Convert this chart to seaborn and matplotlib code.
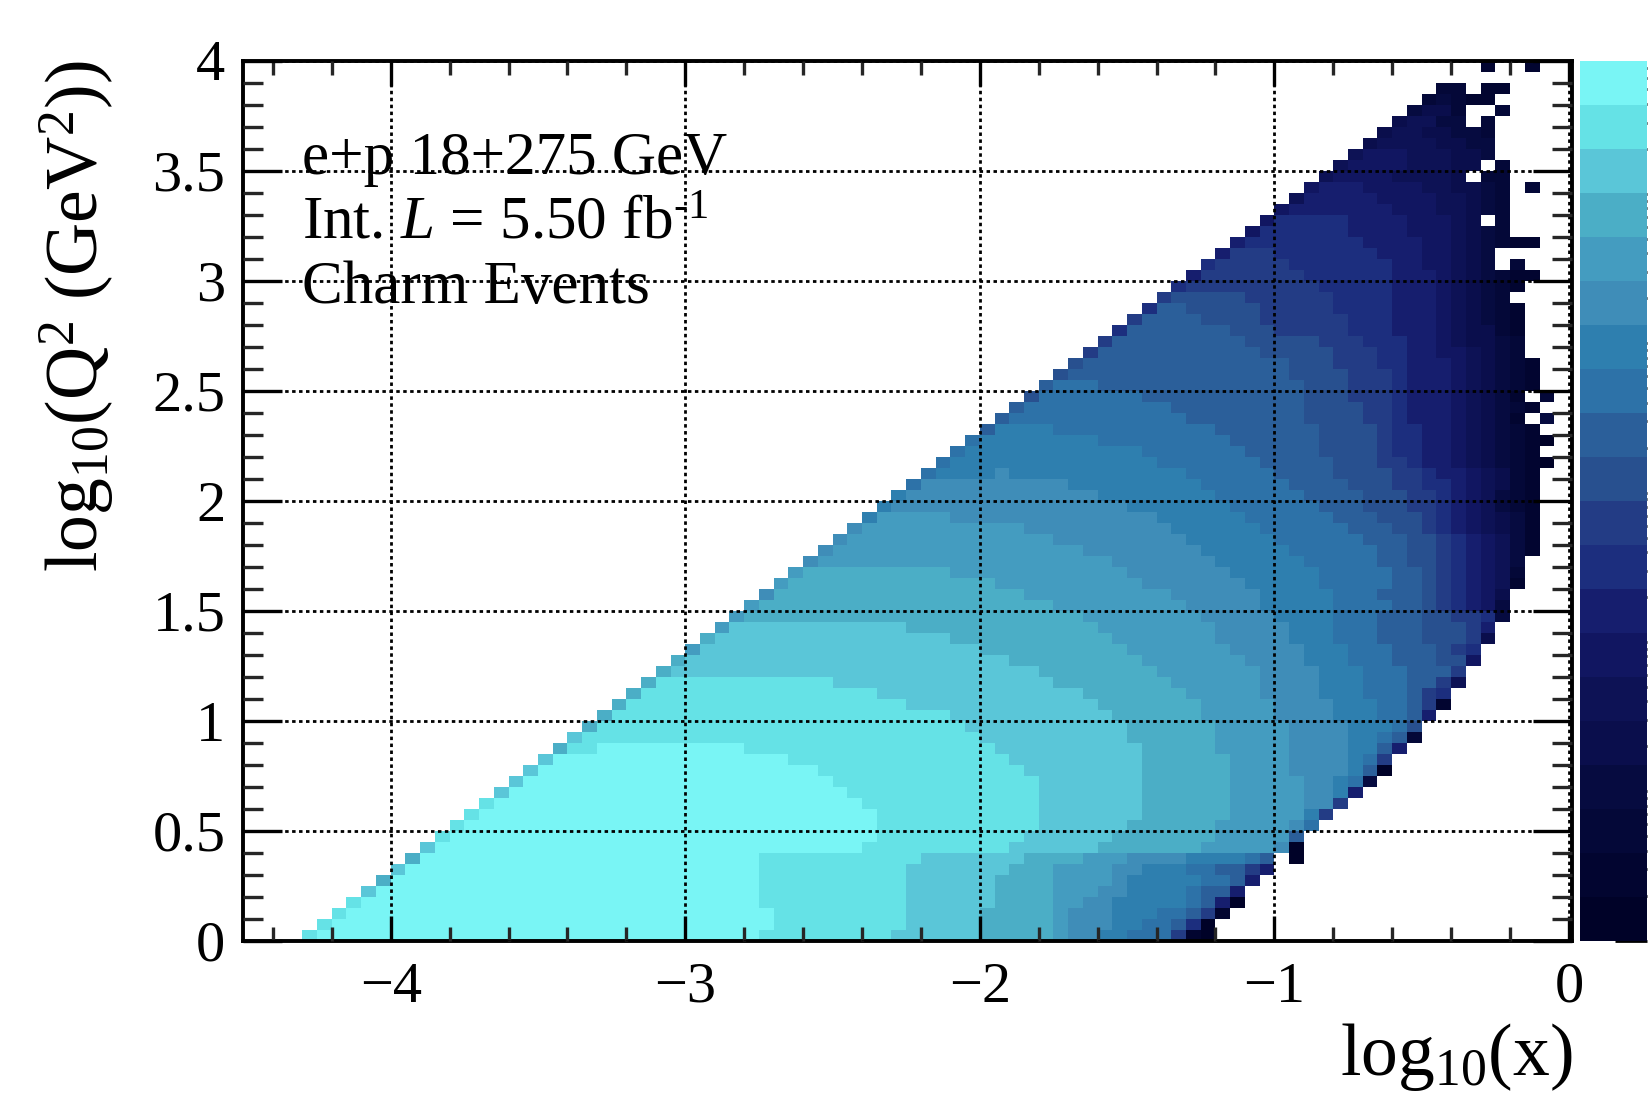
import numpy as np
import matplotlib
matplotlib.use("Agg")
import matplotlib.pyplot as plt
from matplotlib.colors import ListedColormap
from matplotlib.ticker import FixedLocator
import seaborn as sns

# colour bands of the z scale, light (a) to dark (t)
band_names = "abcdefghijklmnopqrst"
band_colors = ["#79F5F5", "#65E2E6", "#5AC6D8", "#4BAEC6", "#449CC0", "#3F8DB8", "#2E7FAF",
               "#2D72A8", "#2B5F9A", "#28508F", "#233C85", "#1C2E7E", "#161E6E", "#111661",
               "#0D1255", "#0A0E4C", "#060B40", "#040838", "#020530", "#000228"]
z_log_max = 5.893

# one string per Q2 bin, bottom to top: first column, then band + column where it ends (_ = empty)
row_runs = [
    "4 b5 a35 b44 c50 d55 e56 f58 g60 h63 k64 s65 t66",
    "5 b6 a36 b45 c50 d55 e56 f59 g61 h63 i64 l65 t66",
    "6 b7 a36 b45 c50 d55 e56 f59 g62 h64 i65 k66 s67",
    "7 b8 a35 b45 c51 d55 e57 f59 g64 h65 i66 m67 t68",
    "8 c9 a35 b45 c51 d55 e58 f60 g64 h65 i67 m68",
    "9 d10 a35 b45 c51 d55 e59 f60 g65 h67 i68 m69",
    "10 c11 a35 b45 c52 d55 e59 f61 g64 h66 i68 k69 m70",
    "11 d12 a35 b46 c53 d57 e60 f64 g68 h69 i70 _71 t72",
    "12 c13 a42 b52 c58 d65 e70 f71 t72",
    "13 b14 a43 b53 c59 d66 e71 i72",
    "14 b15 a43 b54 c60 d66 e71 f72 h73",
    "15 b16 a43 b54 c61 d67 e72 g73 k74",
    "16 b17 a42 b54 c61 d67 e72 f74 k75",
    "17 c18 a41 b54 c61 d67 e72 f74 g75 m76",
    "18 c19 a40 b54 c61 d67 e72 f74 g75 h76 q77",
    "19 c20 a39 b53 c61 d67 e71 f75 g76 i77 t78",
    "20 c21 a37 b52 c61 d67 e71 f75 g76 h77 k78",
    "21 d22 b24 a34 b51 c61 d66 e71 f75 g77 i78 m79",
    "22 c23 b50 c60 d66 e71 f75 g77 h78 i79 r80",
    "23 d24 b49 c60 d66 e71 f75 g78 h79 j80",
    "24 d25 b48 c59 d65 e70 f74 g77 h79 i80 m81",
    "25 d26 b45 c58 d65 e70 f74 g77 h79 i80 k81 s82",
    "26 d27 b43 c57 d64 e69 f73 g76 h79 i80 k81 l82",
    "27 d28 b40 c55 d63 e69 f73 g76 h79 i81 k82 o83",
    "28 d29 c54 d62 e69 f73 g76 h79 i82 k83",
    "29 d30 c52 d61 e68 f72 g75 h78 i81 j83 n84",
    "30 e31 c50 d60 e67 f72 g75 h78 i81 j82 k83 l84",
    "31 d32 c48 d59 e66 f71 g74 h77 i80 j83 k84 p85",
    "32 e33 c45 d58 e66 f71 g74 h77 i80 j83 k84 m85",
    "33 e34 d57 e65 f70 g74 h77 i80 j82 k84 l85 q86",
    "34 e35 d55 e64 f69 g74 h78 i80 j81 k82 l83 m84 n85 q86",
    "35 f36 d53 e63 f69 g74 h77 i80 j81 k82 l83 m84 n85 p86",
    "36 e37 d51 e61 f68 g73 h78 i80 j81 k82 l83 m84 n85 o86 s87",
    "37 e38 d48 e60 f67 g73 h78 i80 j81 k82 l83 m84 n85 o86 r87",
    "38 f39 e59 f66 g72 h77 i79 j81 k82 l83 m84 n85 o86 q87",
    "39 f40 e57 f65 g71 h77 i79 j81 k82 l83 m84 n85 o86 q87 s88",
    "40 f41 e55 f64 g70 h76 i79 j81 k82 l83 m84 n85 o86 q87 s88",
    "41 f42 e53 f63 g69 h75 i78 j80 k81 l82 m83 n84 o85 p86 q87 s88",
    "42 g43 e48 f62 g68 h74 i77 j80 k81 l82 m83 n84 o85 p86 q87 s88",
    "43 g44 f60 g67 h73 i76 j79 k81 l82 m83 n84 o85 q86 r87 s88",
    "44 g45 f58 g66 h72 i76 j79 k81 l82 m83 n84 o85 q86 r87 s88",
    "45 h46 f56 g65 h71 i75 j78 k80 l82 m83 n84 o85 p86 r87 s88",
    "46 h47 g51 f52 g64 h70 i74 j78 k80 l81 m83 n84 o85 p86 r87 s88",
    "47 h48 g62 h69 i74 j77 k79 l80 m82 n83 o84 p85 q86 r87 s88 t89",
    "48 h49 g61 h68 i73 j77 k78 l80 m82 n83 o84 p85 q86 r87 s88",
    "49 h50 g58 h67 i73 j77 k78 l80 m82 n83 o84 p85 q86 r87 s88 t89",
    "50 i51 g55 h66 i73 j77 k78 l80 m82 n83 o84 p85 q86 r87 s88",
    "51 i52 h64 i72 j76 k78 l79 m82 n83 o84 p85 q86 s87 _88 q89",
    "52 i53 h63 i72 j76 k78 l79 m82 n83 o84 p85 q86 r87 s88",
    "53 j54 h61 i72 j75 k78 l79 m82 n83 o84 p85 q86 s87 _88 r89",
    "54 i55 h58 i72 j75 k78 l79 m82 n83 o84 p85 q86 r87 s88",
    "55 j56 i71 j75 k78 l79 m82 n83 o84 p85 q86 r87 s88",
    "56 j57 i71 j74 k77 l79 m82 n83 o84 p85 q86 r87 s88",
    "57 k58 i69 j74 k77 l79 m81 n83 o84 p85 q86 r87",
    "58 k59 i68 j73 k76 l79 m81 n82 o83 p85 q86 r87",
    "59 l60 i67 j70 k75 l78 m81 n82 o83 p85 r86 s87",
    "60 k61 i65 j69 k75 l78 m81 n82 o83 p84 q85 r86 s87",
    "61 l62 i64 j69 k74 l78 m81 n82 o83 p84 q85 r86 s87",
    "62 k63 j68 k74 l78 m81 n82 o83 p84 q85 r86",
    "63 l64 k73 l78 m81 n82 o83 p84 q85 r86 s87",
    "64 m65 k72 l78 m81 n82 o83 p84 q85 r86 s88",
    "65 l66 k71 l78 m80 n82 o83 p84 q85 _86 r87",
    "66 m67 k70 l77 m80 n82 o83 p84 q85",
    "67 m68 l76 m80 n82 o83 p84 q85 r86 s88",
    "68 n69 l75 m79 n82 o83 p84 q85 r86",
    "69 n70 l75 m79 n82 o83 p84 _85 r86",
    "70 n71 m78 n81 o83 p84 q85 r86",
    "71 o72 m77 n81 o83 p84 q85 r86",
    "72 n73 m76 n80 o82 p84 q85 r86 _87 r88",
    "73 o74 n78 o82 p83 _84 r86",
    "74 o75 n79 o82 p84 _85 r86",
    "75 o76 n79 o82 p84 q85",
    "76 p77 o81 p83 q85",
    "77 p78 o80 p82 q84 r85",
    "78 p79 o81 q83 _84 r85",
    "79 q80 p82 r83 _85 r86",
    "80 r81 q82 r83 s85",
    "81 r83 _84 s86",
    "",
    "84 s85 _87 s88",
]

x_tick_labels = ["\u22124", "\u22123", "\u22122", "\u22121", "0"]
y_tick_labels = ["0", "0.5", "1", "1.5", "2", "2.5", "3", "3.5", "4"]

sns.set_theme(style="ticks")
plt.rcParams['font.family'] = ['Liberation Serif', 'DejaVu Serif']
plt.rcParams['mathtext.fontset'] = 'custom'
plt.rcParams['mathtext.rm'] = 'Liberation Serif'
plt.rcParams['mathtext.it'] = 'Liberation Serif:italic'

# unpack the runs to bin centres + weights
x_edges = -4.5 + 0.05 * np.arange(91)
y_edges = 0.05 * np.arange(81)
band_edges = np.linspace(0, z_log_max, 21)
band_mid = (band_edges[:-1] + band_edges[1:]) / 2

xs, ys, ws = [], [], []
for row, runs in enumerate(row_runs):
    tokens = runs.split()
    if not tokens:
        continue
    col = int(tokens[0])
    for tok in tokens[1:]:
        end = int(tok[1:])
        if tok[0] != "_":
            for c in range(col, end):
                xs.append(x_edges[c] + 0.025)
                ys.append(y_edges[row] + 0.025)
                ws.append(band_mid[19 - band_names.index(tok[0])])
        col = end

cmap = ListedColormap(band_colors[::-1])

W, H = 1650, 1108
fig = plt.figure(figsize=(W / 100, H / 100), dpi=100)
ax = fig.add_axes([243.4 / W, (H - 940.7) / H, (1572.5 - 243.4) / W, 880.2 / H])
cax = fig.add_axes([1579.5 / W, (H - 940.7) / H, (1647 - 1579.5) / W, 880.2 / H])

# 2D histogram
sns.histplot(x=xs, y=ys, weights=ws, bins=(x_edges, y_edges), cmap=cmap,
             vmin=0, vmax=z_log_max, ax=ax)

ax.set_xlim(-4.5, 0.012)
ax.set_ylim(0, 4)
ax.set_xticks(np.arange(-4, 1))
ax.set_xticklabels(x_tick_labels)
ax.set_yticks(np.arange(0, 4.5, 0.5))
ax.set_yticklabels(y_tick_labels)
ax.xaxis.set_minor_locator(FixedLocator(np.arange(-4.4, 0.01, 0.2)))
ax.yaxis.set_minor_locator(FixedLocator(np.arange(0, 4.01, 0.1)))

ax.tick_params(axis='x', which='major', direction='in', top=True, bottom=True, length=18, width=2.4,
               pad=15, labelsize=42, color='black', labelcolor='black')
ax.tick_params(axis='x', which='minor', direction='in', top=True, bottom=True, length=10, width=2.4)
ax.tick_params(axis='y', which='major', direction='in', left=True, right=True, length=28, width=2.4,
               pad=13, labelsize=42, color='black', labelcolor='black')
ax.tick_params(axis='y', which='minor', direction='in', left=True, right=True, length=14.5, width=2.4)
for spine in ax.spines.values():
    spine.set_visible(True)
    spine.set_linewidth(2.8)
    spine.set_color('black')

ax.set_axisbelow(False)
ax.grid(True, which='major', color='black', linewidth=2.0, linestyle=(0, (1.25, 1.25)))

ax.set_xlabel("log$_{10}$(x)", fontsize=53, loc='right', color='black')
ax.xaxis.set_label_coords(1.0, -0.091)
ax.set_ylabel("log$_{10}$(Q$^{2}$ (GeV$^{2}$))", fontsize=53, loc='top', color='black')
ax.yaxis.set_label_coords(-0.0955, 1.0)

# labels
ax.text(-4.30, 3.485, "e+p 18+275 GeV", fontsize=44, color='black', va='baseline')
ax.text(-4.30, 3.19, "Int. $\\mathit{L}$ = 5.50 fb$^{\\text{-1}}$", fontsize=44, color='black', va='baseline')
ax.text(-4.30, 2.90, "Charm Events", fontsize=44, color='black', va='baseline')

# colour bar, axis in log10(z)
sns.histplot(x=[0.5] * 20, y=band_mid, weights=band_mid, bins=([0, 1], band_edges), cmap=cmap,
             vmin=0, vmax=z_log_max, ax=cax)
cax.set_xlim(0, 1)
cax.set_ylim(0, z_log_max)
cax.set_xticks([])
cax.set_xlabel("")
cax.set_ylabel("")
cax.set_yticks(np.arange(0, 6))
cax.set_yticklabels([])
minor_pos = [d + np.log10(k) for d in range(6) for k in range(2, 10)]
cax.yaxis.set_minor_locator(FixedLocator([p for p in minor_pos if p < z_log_max]))
cax.yaxis.tick_right()
cax.tick_params(axis='y', which='major', direction='in', length=23, width=2.0, color='black')
cax.tick_params(axis='y', which='minor', direction='in', length=9.5, width=2.0, color='black')
for spine in cax.spines.values():
    spine.set_visible(False)

fig.savefig("out.png", dpi=100)
